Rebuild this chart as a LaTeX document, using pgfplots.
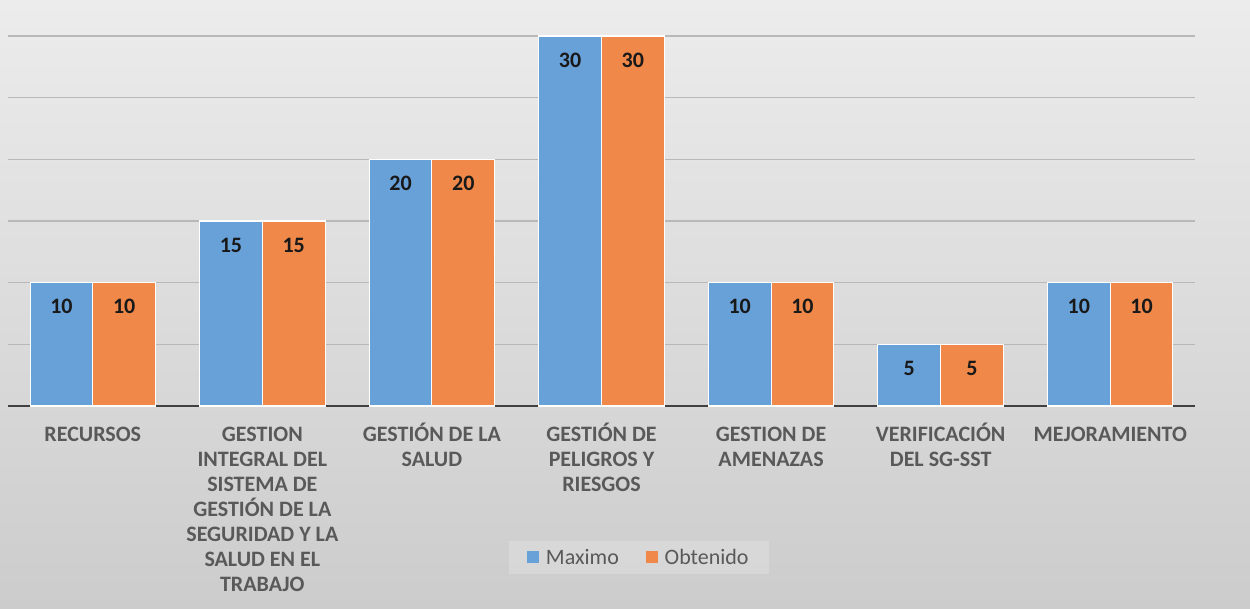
\documentclass[border=0pt]{standalone}
\usepackage{pgfplots}
\pgfplotsset{compat=1.18}
\usepackage{fontspec}
\setmainfont{Carlito}
\definecolor{cblue}{RGB}{104,160,216}
\definecolor{corange}{RGB}{239,136,72}
\definecolor{bgtop}{RGB}{236,236,236}
\definecolor{bgbot}{RGB}{204,204,204}
\definecolor{gridc}{RGB}{184,184,184}
\definecolor{labc}{RGB}{89,89,89}
\definecolor{axc}{RGB}{64,64,64}
\newcommand{\st}{\rule{0pt}{15pt}}
\begin{document}
\begin{tikzpicture}
\shade[top color=bgtop, bottom color=bgbot] (0,0) rectangle (937.5pt,456.75pt);
\begin{axis}[
  at={(6pt,152.25pt)}, anchor=south west,
  width=890.25pt, height=304.5pt, scale only axis,
  xmin=-0.5, xmax=6.5, ymin=0, ymax=32.92,
  ybar=0pt, bar width=0.37,
  axis line style={draw=none},
  ytick={5,10,...,30}, yticklabels={}, major tick length=0pt,
  ymajorgrids, grid style={gridc, line width=1.1pt},
  extra y ticks={0}, extra y tick labels={},
  extra y tick style={grid style={axc, line width=1.6pt}},
  xtick={0,...,6},
  xticklabels={{\st RECURSOS},{\st GESTION\\INTEGRAL DEL\\SISTEMA DE\\GESTIÓN DE LA\\SEGURIDAD Y LA\\SALUD EN EL\\TRABAJO},{\st GESTIÓN DE LA\\SALUD},{\st GESTIÓN DE\\PELIGROS Y\\RIESGOS},{\st GESTION DE\\AMENAZAS},{\st VERIFICACIÓN\\DEL SG-SST},{\st MEJORAMIENTO}},
  xticklabel style={align=center, anchor=north, yshift=-8pt, text=labc, font=\bfseries\fontsize{16.5}{18.8}\selectfont},
  /pgf/number format/assume math mode=true,
  nodes near coords,
  every node near coord/.append style={anchor=center, yshift=-18pt, font=\bfseries\fontsize{16.5}{18}\selectfont, text=black!90},
  legend style={at={(0.5316,-0.374)}, anchor=center, legend columns=2,
    draw=none, fill=white, fill opacity=0.2, text opacity=1,
    inner xsep=13pt, inner ysep=4pt,
    font=\fontsize{16.5}{18}\selectfont, text=labc,
    /tikz/every even column/.append style={column sep=18pt}},
  legend image code/.code={\fill[#1, draw=none, fill opacity=1] (0pt,-4pt) rectangle (9pt,5pt); \path (12pt,0pt);},
  clip=false,
]
\addplot[fill=cblue, draw=white, line width=0.8pt] coordinates {(0,10) (1,15) (2,20) (3,30) (4,10) (5,5) (6,10)};
\addplot[fill=corange, draw=white, line width=0.8pt] coordinates {(0,10) (1,15) (2,20) (3,30) (4,10) (5,5) (6,10)};
\legend{Maximo, Obtenido}
\end{axis}
\pgfresetboundingbox
\useasboundingbox (0,0) rectangle (937.5pt,456.75pt);
\end{tikzpicture}
\end{document}
